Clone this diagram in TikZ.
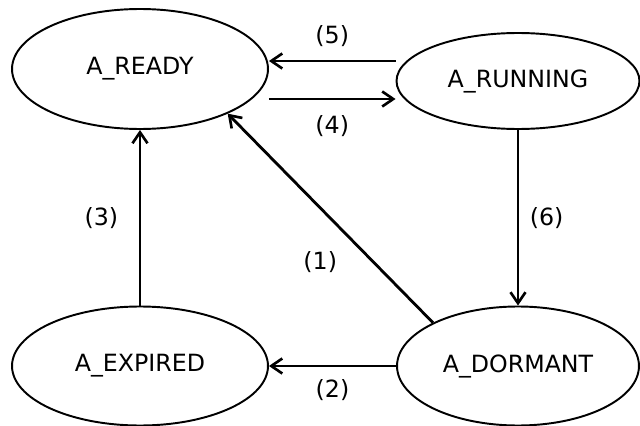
\documentclass[tikz,border=0pt]{standalone}
\usepackage{fontspec}
\setmainfont{DejaVu Sans}
\usetikzlibrary{positioning,arrows.meta,shapes.geometric}

\begin{document}
\begin{tikzpicture}[x=0.02cm, y=-0.02cm,
  state/.style={draw, ellipse, line width=1.1pt, inner sep=0pt, font=\fontsize{13.5}{16}\selectfont},
  trans/.style={line width=1.6pt, -{Straight Barb[length=0.22cm, width=0.3cm, line width=1.5pt]}},
  lbl/.style={inner sep=0pt, font=\fontsize{13.5}{16}\selectfont}]
  \useasboundingbox (0,0) rectangle (640,426);
  \node[state, minimum width=5.12cm, minimum height=2.4cm] (ready) at (140,69) {A\_READY};
  \node[state, minimum width=4.86cm, minimum height=1.92cm] (running) at (518,81) {A\_RUNNING};
  \node[state, minimum width=5.12cm, minimum height=2.38cm] (expired) at (140,366) {A\_EXPIRED};
  \node[state, minimum width=4.84cm, minimum height=2.38cm] (dormant) at (518,366) {A\_DORMANT};
  \draw[trans] (dormant.153) -- node[lbl, pos=0.29, left=0.7cm]{(1)} (ready.-27);
  \draw[trans] (dormant.west) -- node[lbl, below=0.25cm]{(2)} (expired.east);
  \draw[trans] (expired.north) -- node[lbl, left=0.41cm]{(3)} (ready.south);
  \draw[trans] ([yshift=-0.36cm]running.west -| ready.east) -- node[lbl, below=0.31cm]{(4)} ([yshift=-0.36cm]running.west);
  \draw[trans] ([yshift=0.4cm]running.west) -- node[lbl, above=0.25cm]{(5)} ([yshift=0.4cm]running.west -| ready.east);
  \draw[trans] (running.south) -- node[lbl, right=0.21cm]{(6)} (dormant.north);
\end{tikzpicture}
\end{document}
